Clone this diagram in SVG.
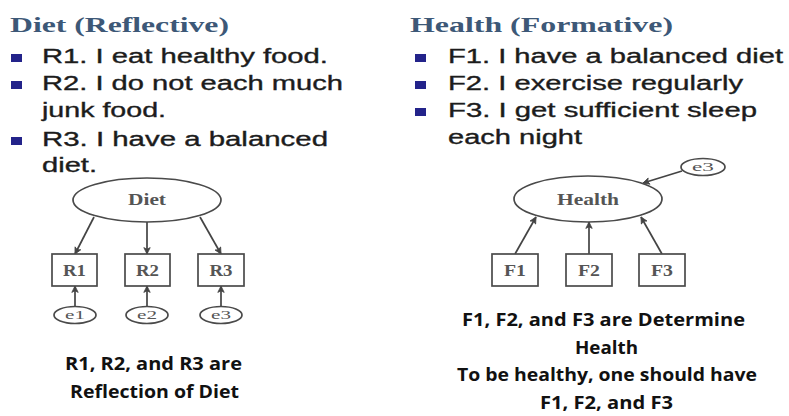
<svg xmlns="http://www.w3.org/2000/svg" width="789" height="416" viewBox="0 0 789 416">
<style>
.title{font-family:"Liberation Serif","DejaVu Serif",serif;font-weight:bold;font-size:22px;fill:#3d5877}
.body{font-family:"Liberation Sans",Arial,sans-serif;font-size:20px;fill:#1c1c1c;stroke:#1c1c1c;stroke-width:0.35}
.bul{fill:#23238a}
.cap{font-family:"Open Sans","Liberation Sans",sans-serif;font-weight:bold;font-size:18.5px;fill:#111}
.shape{fill:#fff;stroke:#4a4a4a;stroke-width:1.7}
.lbl{font-family:"Liberation Serif","DejaVu Serif",serif;font-weight:bold;font-size:16px;fill:#555}
.elbl{font-family:"Liberation Serif","DejaVu Serif",serif;font-size:12px;fill:#555}
.conn line{stroke:#444;stroke-width:1.7;marker-end:url(#arr)}
</style>
<defs>
<marker id="arr" viewBox="0 0 10 10" refX="9" refY="5" markerWidth="8" markerHeight="8" orient="auto" markerUnits="userSpaceOnUse">
<path d="M1,1 L9,5 L1,9 L3,5 Z" fill="#444" stroke="#444" stroke-width="1"/>
</marker>
</defs>
<rect width="789" height="416" fill="#fff"/>

<g id="left-text">
<text class="title" x="10" y="32" textLength="219" lengthAdjust="spacingAndGlyphs">Diet (Reflective)</text>
<rect class="bul" x="11" y="54" width="11" height="8"/>
<text class="body" x="42" y="63" textLength="286" lengthAdjust="spacingAndGlyphs">R1. I eat healthy food.</text>
<rect class="bul" x="11" y="81" width="11" height="8"/>
<text class="body" x="42" y="90" textLength="301" lengthAdjust="spacingAndGlyphs">R2. I do not each much</text>
<text class="body" x="42" y="117" textLength="124" lengthAdjust="spacingAndGlyphs">junk food.</text>
<rect class="bul" x="11" y="137" width="11" height="8"/>
<text class="body" x="42" y="146" textLength="286" lengthAdjust="spacingAndGlyphs">R3. I have a balanced</text>
<text class="body" x="42" y="172" textLength="55" lengthAdjust="spacingAndGlyphs">diet.</text>
</g>

<g id="right-text">
<text class="title" x="410" y="32" textLength="263" lengthAdjust="spacingAndGlyphs">Health (Formative)</text>
<rect class="bul" x="415" y="54" width="11" height="8"/>
<text class="body" x="448" y="63" textLength="335" lengthAdjust="spacingAndGlyphs">F1. I have a balanced diet</text>
<rect class="bul" x="415" y="81" width="11" height="8"/>
<text class="body" x="448" y="90" textLength="295" lengthAdjust="spacingAndGlyphs">F2. I exercise regularly</text>
<rect class="bul" x="415" y="108" width="11" height="8"/>
<text class="body" x="448" y="117" textLength="309" lengthAdjust="spacingAndGlyphs">F3. I get sufficient sleep</text>
<text class="body" x="448" y="144" textLength="134" lengthAdjust="spacingAndGlyphs">each night</text>
</g>

<g class="conn" id="connectors">
<line x1="94" y1="217" x2="75" y2="254"/>
<line x1="147" y1="222" x2="147" y2="254"/>
<line x1="200" y1="217" x2="221" y2="254"/>
<line x1="75" y1="307" x2="75" y2="286"/>
<line x1="147" y1="307" x2="147" y2="286"/>
<line x1="221" y1="307" x2="221" y2="286"/>
<line x1="515" y1="254" x2="536" y2="217"/>
<line x1="589" y1="254" x2="589" y2="222"/>
<line x1="662" y1="254" x2="641" y2="217"/>
<line x1="682" y1="171" x2="643" y2="183"/>
</g>

<g id="diet"><ellipse class="shape" cx="147" cy="200" rx="74" ry="22"/><text class="lbl" x="128" y="205" textLength="38" lengthAdjust="spacingAndGlyphs">Diet</text></g>
<g id="r1"><rect class="shape" x="52" y="254" width="45" height="32"/><text class="lbl" x="63" y="276" textLength="23" lengthAdjust="spacingAndGlyphs">R1</text></g>
<g id="r2"><rect class="shape" x="125" y="254" width="45" height="32"/><text class="lbl" x="136" y="276" textLength="23" lengthAdjust="spacingAndGlyphs">R2</text></g>
<g id="r3"><rect class="shape" x="198" y="254" width="46" height="32"/><text class="lbl" x="209.5" y="276" textLength="23" lengthAdjust="spacingAndGlyphs">R3</text></g>
<g id="e1"><ellipse class="shape" cx="75" cy="315" rx="21" ry="8.5"/><text class="elbl" x="65" y="319" textLength="20" lengthAdjust="spacingAndGlyphs">e1</text></g>
<g id="e2"><ellipse class="shape" cx="147" cy="315" rx="21" ry="8.5"/><text class="elbl" x="137" y="319" textLength="20" lengthAdjust="spacingAndGlyphs">e2</text></g>
<g id="e3-left"><ellipse class="shape" cx="221" cy="315" rx="21" ry="8.5"/><text class="elbl" x="211" y="319" textLength="20" lengthAdjust="spacingAndGlyphs">e3</text></g>

<g id="health"><ellipse class="shape" cx="588" cy="199" rx="74" ry="23"/><text class="lbl" x="557" y="205" textLength="62" lengthAdjust="spacingAndGlyphs">Health</text></g>
<g id="f1"><rect class="shape" x="492" y="254" width="46" height="32"/><text class="lbl" x="504" y="276" textLength="22" lengthAdjust="spacingAndGlyphs">F1</text></g>
<g id="f2"><rect class="shape" x="566" y="254" width="46" height="32"/><text class="lbl" x="578" y="276" textLength="22" lengthAdjust="spacingAndGlyphs">F2</text></g>
<g id="f3"><rect class="shape" x="639" y="254" width="46" height="32"/><text class="lbl" x="651" y="276" textLength="22" lengthAdjust="spacingAndGlyphs">F3</text></g>
<g id="e3-right"><ellipse class="shape" cx="703" cy="167" rx="22" ry="8.5"/><text class="elbl" x="692" y="171" textLength="22" lengthAdjust="spacingAndGlyphs">e3</text></g>

<g id="left-caption">
<text class="cap" x="65" y="370" textLength="177" lengthAdjust="spacingAndGlyphs">R1, R2, and R3 are</text>
<text class="cap" x="70" y="398" textLength="169" lengthAdjust="spacingAndGlyphs">Reflection of Diet</text>
</g>
<g id="right-caption">
<text class="cap" x="462" y="326" textLength="283" lengthAdjust="spacingAndGlyphs">F1, F2, and F3 are Determine</text>
<text class="cap" x="575" y="354" textLength="63" lengthAdjust="spacingAndGlyphs">Health</text>
<text class="cap" x="457" y="381" textLength="300" lengthAdjust="spacingAndGlyphs">To be healthy, one should have</text>
<text class="cap" x="540" y="409" textLength="133" lengthAdjust="spacingAndGlyphs">F1, F2, and F3</text>
</g>
</svg>
